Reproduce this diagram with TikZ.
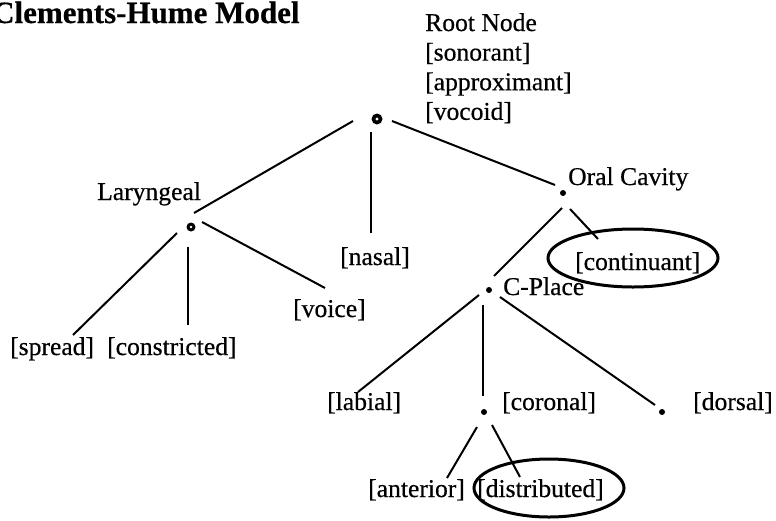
\documentclass[tikz,border=0pt]{standalone}
\usepackage{fontspec}
\setmainfont{Liberation Serif}[FakeBold=0.5]
\newfontfamily\titlefont{Liberation Serif}[FakeBold=0.5]
\usetikzlibrary{calc}
\begin{document}
\begin{tikzpicture}[x=1pt,y=-1pt,
  lbl/.style={anchor=base west,inner sep=0pt,font=\fontsize{25.6}{29.6}\selectfont},
  ttl/.style={anchor=base west,inner sep=0pt,font=\fontsize{31}{34}\selectfont\bfseries},
  dotbig/.style={circle,fill=black,inner sep=0pt,minimum size=11pt},
  dotmid/.style={circle,fill=black,inner sep=0pt,minimum size=9pt},
  dotsm/.style={circle,fill=black,inner sep=0pt,minimum size=6pt},
  conn/.style={line width=2pt},
  ring/.style={line width=3pt}]
\useasboundingbox (0,0) rectangle (776,520);
% title
\node[ttl] (title) at (-8,23) {Clements-Hume Model};
% dots
\node[dotbig] (root) at (377,119) {};
\fill[white] (root.center) circle (1.6pt);
\node[dotmid] (lar) at (191,227) {};
\fill[white] (lar.center) circle (1.3pt);
\node[dotsm] (oral) at (563,193) {};
\node[dotsm] (cpl) at (489,290) {};
\node[dotsm] (cor) at (484,412) {};
\node[dotsm] (dor) at (662,412) {};
% labels
\node[lbl] (rootlbl) at (425,31) {\begin{tabular}[t]{@{}l@{}}Root Node\\{[sonorant]}\\{[approximant]}\\{[vocoid]}\end{tabular}};
\node[lbl] (larlbl) at (97,200) {Laryngeal};
\node[lbl] (orallbl) at (568,185) {Oral Cavity};
\node[lbl] (nasal) at (340,265) {[nasal]};
\node[lbl] (voice) at (293,317) {[voice]};
\node[lbl] (spread) at (10,355) {[spread]};
\node[lbl] (constr) at (107,355) {[constricted]};
\node[lbl] (cont) at (575,270) {[continuant]};
\node[lbl] (cpllbl) at (503,295) {C-Place};
\node[lbl] (labial) at (327,410) {[labial]};
\node[lbl] (coronal) at (502,410) {[coronal]};
\node[lbl] (dorsal) at (693,410) {[dorsal]};
\node[lbl] (anter) at (368,497) {[anterior]};
\node[lbl] (distr) at (477,497) {[distributed]};
% connectors
\draw[conn] ($(root)+(-24,2)$) -- ($(lar)+(3,-14)$);
\draw[conn] ($(root)+(-6,13)$) -- ($(nasal.base west)+(31,-32)$);
\draw[conn] ($(root)+(15,2)$) -- ($(oral)+(-8,-8)$);
\draw[conn] ($(lar)+(-14,6)$) -- ($(spread.base west)+(63,-20)$);
\draw[conn] ($(lar)+(-3,20)$) -- ($(constr.base west)+(81,-30)$);
\draw[conn] ($(lar)+(11,-5)$) -- ($(voice.base west)+(32,-29)$);
\draw[conn] ($(oral)+(-1,15)$) -- ($(cpl)+(5,-14)$);
\draw[conn] ($(oral)+(7,16)$) -- ($(cont.base west)+(23,-31)$);
\draw[conn] ($(cpl)+(-10,5)$) -- ($(labial.base west)+(31,-18)$);
\draw[conn] ($(cpl)+(-6,15)$) -- ($(cor)+(-1,-16)$);
\draw[conn] ($(cpl)+(11,7)$) -- ($(dor)+(-7,-7)$);
\draw[conn] ($(cor)+(-7,15)$) -- ($(anter.base west)+(79,-19)$);
\draw[conn] ($(cor)+(8,13)$) -- ($(distr.base west)+(43,-20)$);
% ovals
\draw[ring] (633,258) ellipse [x radius=85, y radius=29];
\draw[ring] (549,488) ellipse [x radius=75, y radius=29];
\end{tikzpicture}
\end{document}
